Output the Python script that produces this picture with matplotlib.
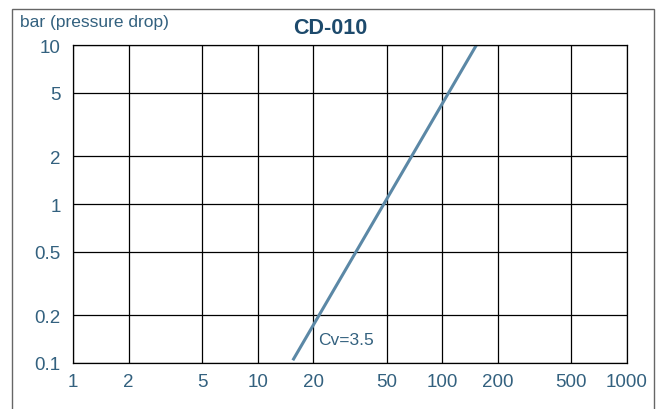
import matplotlib
matplotlib.use("Agg")
import matplotlib.pyplot as plt
from matplotlib.patches import Rectangle
from matplotlib.ticker import FixedLocator, NullLocator

plt.rcParams["font.family"] = ["Liberation Sans", "DejaVu Sans"]

# flow vs pressure drop
flow = [15.5, 153]
pressure_drop = [0.104, 10]
x_ticks = [1, 2, 5, 10, 20, 50, 100, 200, 500, 1000]
y_ticks = [0.1, 0.2, 0.5, 1, 2, 5, 10]
title = "CD-010"
ylabel = "bar (pressure drop)"
curve_label = "Cv=3.5"

text_col = "#33617f"
line_col = "#5b88a6"

fig = plt.figure(figsize=(6.6, 4.1), dpi=100)
ax = fig.add_axes([73 / 660, 1 - 364 / 410, 554 / 660, 318 / 410])

ax.plot(flow, pressure_drop, color=line_col, lw=2.2, solid_capstyle="butt")
ax.set_xscale("log")
ax.set_yscale("log")
ax.set_xlim(1, 1000)
ax.set_ylim(0.1, 10)

ax.xaxis.set_major_locator(FixedLocator(x_ticks))
ax.yaxis.set_major_locator(FixedLocator(y_ticks))
ax.xaxis.set_minor_locator(NullLocator())
ax.yaxis.set_minor_locator(NullLocator())
ax.set_xticklabels([f"{t:g}" for t in x_ticks])
ax.set_yticklabels([f"{t:g}" for t in y_ticks])
ax.tick_params(length=0, labelsize=13.5, labelcolor=text_col)
ax.tick_params(axis="x", pad=7)
ax.tick_params(axis="y", pad=9)
ax.grid(True, color="black", lw=0.9)
for s in ax.spines.values():
    s.set_color("black")
    s.set_linewidth(0.9)

ax.text(21.2, 0.141, curve_label, color=text_col, fontsize=12.5, va="center", ha="left")

fig.text(20 / 660, 1 - 22 / 410, ylabel, color=text_col, fontsize=12.5,
         ha="left", va="center")
fig.text(330 / 660, 1 - 28 / 410, title, color="#1d4a6c", fontsize=15.5,
         fontweight="bold", ha="center", va="center")

# thin outer frame (open at the bottom)
fig.add_artist(Rectangle((12 / 660, -0.1), 642 / 660, 1.1 - 10 / 410,
                         transform=fig.transFigure, fill=False,
                         edgecolor="#666666", lw=1))

fig.savefig("out.png", dpi=100)
